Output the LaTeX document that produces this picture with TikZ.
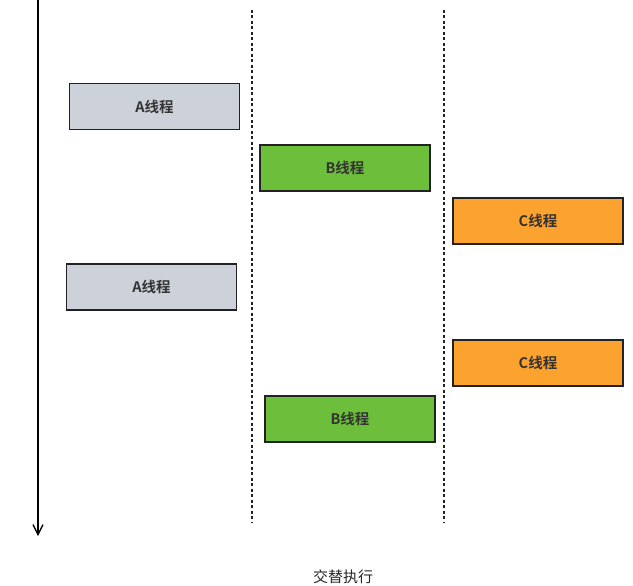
\documentclass[tikz,border=0pt]{standalone}
\usepackage{fontspec}
\newfontfamily\cjk{Noto Sans CJK SC}[BoldFont={Noto Sans CJK SC Bold}]
\usetikzlibrary{arrows.meta}
\definecolor{grayA}{HTML}{CDD2DA}
\definecolor{greenB}{HTML}{6DBE3A}
\definecolor{orangeC}{HTML}{FBA22F}
\definecolor{edge}{HTML}{222222}
\tikzset{
  thread/.style={draw=edge, line width=1.5pt, minimum width=170pt, minimum height=46pt, inner sep=0pt, font=\cjk\bfseries\fontsize{14.5pt}{16pt}\selectfont, text=black!80},
  lane/.style={draw=edge, line width=1.2pt, dash pattern=on 3pt off 2.5pt},
}
\begin{document}
\begin{tikzpicture}[x=1pt,y=-1pt]
\useasboundingbox (0,0) rectangle (633,586);
\coordinate (t0) at (38,0);
\coordinate (t1) at (38,536);
\draw[line width=1.3pt, -{Straight Barb[length=10pt,width=10pt]}] (t0) -- (t1);
\coordinate (l1a) at (252,10);
\coordinate (l1b) at (252,522);
\coordinate (l2a) at (444,10);
\coordinate (l2b) at (444,522);
\draw[lane] (l1a) -- (l1b);
\draw[lane] (l2a) -- (l2b);
\node[thread, fill=grayA] (a1) at (154.5,106.5) {A线程};
\node[thread, fill=greenB] (b1) at (345,168) {B线程};
\node[thread, fill=orangeC] (c1) at (538,221) {C线程};
\node[thread, fill=grayA] (a2) at (151.5,287) {A线程};
\node[thread, fill=orangeC] (c2) at (538,363) {C线程};
\node[thread, fill=greenB] (b2) at (350,419) {B线程};
\node[font=\cjk\fontsize{15pt}{17pt}\selectfont, text=black!85] (cap) at (343,577) {交替执行};
\end{tikzpicture}
\end{document}
